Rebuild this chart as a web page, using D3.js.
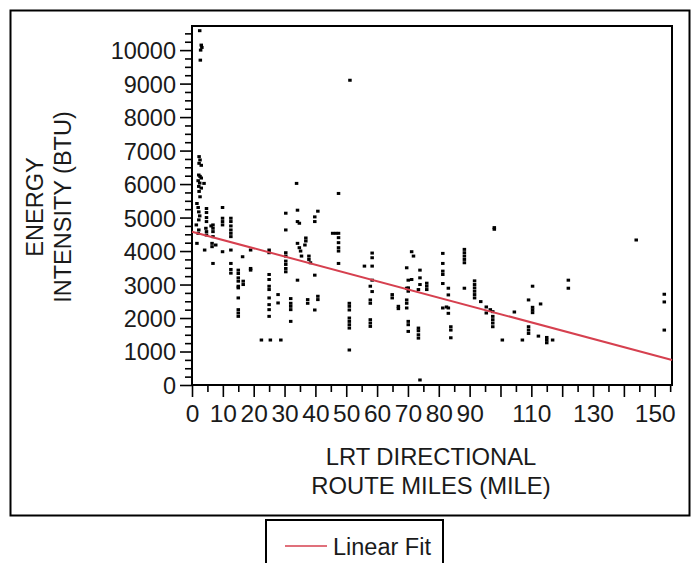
<!DOCTYPE html>
<html>
<head>
<meta charset="utf-8">
<script src="https://cdn.jsdelivr.net/npm/d3@7"></script>
<style>
  body { margin: 0; background: #fff; }
  svg text { font-family: "Liberation Sans", Arial, sans-serif; fill: #1a1a1a; }
</style>
</head>
<body>
<svg id="chart" width="691" height="563"></svg>
<script>
const width = 691, height = 563;

// route miles vs energy intensity
const points = [
  [2.5, 10580], [3.0, 10150], [3.2, 10080], [2.8, 10000], [2.7, 9700],
  [2.3, 6820], [2.6, 6720], [2.3, 6620], [3.0, 6560],
  [2.2, 6270], [2.6, 6230], [3.0, 6180], [2.0, 6100], [2.5, 6030], [3.9, 6020], [2.2, 5930], [3.0, 5880], [2.3, 5780], [2.6, 5620],
  [1.6, 5420], [2.0, 5300], [2.2, 5170], [2.5, 5050], [2.2, 4930], [1.4, 4780], [2.2, 4630], [2.0, 4530], [1.6, 4230],
  [4.7, 5270], [4.7, 5150], [4.7, 5000], [4.7, 4880], [4.5, 4680], [4.7, 4580], [4.7, 4480], [4.1, 4030],
  [6.2, 4750], [6.8, 4780], [6.8, 4680], [6.8, 4580], [6.8, 4430], [6.5, 4230], [6.5, 4130], [7.7, 4180], [6.8, 3630],
  [9.9, 5300], [9.9, 4980], [9.9, 4880], [9.9, 4780], [9.9, 3980],
  [12.6, 4980], [12.6, 4880], [12.6, 4750], [12.6, 4630], [12.6, 4530], [12.6, 4430], [12.6, 4030], [12.6, 3630], [12.6, 3450], [12.6, 3340],
  [15, 3430], [15, 3330], [15, 3200], [15, 3100], [15, 2950], [15, 2900], [15, 2600], [15, 2250], [15, 2150], [15, 2050],
  [16.4, 3830], [16.6, 3100], [16.6, 3000],
  [19, 4030], [19, 3480], [19, 3430],
  [22.5, 1343], [25.4, 1343], [28.8, 1343],
  [25, 4030], [25, 3950], [25, 3300], [25, 3150], [25, 2950], [25, 2850], [25, 2600], [25, 2400], [25, 2250], [25, 2050],
  [27.9, 2700], [27.9, 2450],
  [30.4, 5130], [30.4, 4630], [30.4, 3950], [30.4, 3850], [30.4, 3700], [30.4, 3600], [30.4, 3480], [30.4, 3380],
  [32, 2580], [32, 2440], [32, 2350], [32, 2250], [32, 1900],
  [33.9, 6020],
  [34.2, 5220], [34.2, 4880], [34.8, 4830], [34.2, 4230], [34.8, 4100], [35.2, 4000], [35.5, 3850], [34.2, 3130],
  [36.9, 4390], [36.9, 4300], [36.6, 4180], [37.9, 3850], [37.9, 3750], [38.4, 3650],
  [37.5, 2550], [37.5, 2440],
  [39.8, 5020], [39.8, 4880], [39.8, 3280], [39.8, 2240],
  [40.8, 5190], [40.8, 2650], [40.8, 2550],
  [45.6, 4530], [46.6, 4530],
  [47.5, 4530], [47.5, 4400], [47.5, 4250], [47.5, 4100], [47.5, 4000], [47.5, 3630], [47.5, 5720],
  [51.2, 9100],
  [51, 2440], [51, 2350], [51, 2240], [51, 2000], [51, 1900], [51, 1800], [51, 1700], [51, 1045],
  [55.9, 3550],
  [58.4, 3940], [58.4, 3800], [58.4, 3550], [58.4, 3130], [57.8, 2950], [58.4, 2790], [57.8, 2540], [57.8, 2440], [57.8, 1950], [57.8, 1850], [57.8, 1750],
  [64.9, 2700], [64.9, 2600],
  [66.9, 2350], [66.9, 2280],
  [69.6, 3500], [70.1, 3130], [70.1, 2900], [69.6, 2890], [70.1, 2800], [69.6, 2540], [69.6, 2440], [69.6, 2300], [70.1, 1900], [70.1, 1800], [70.1, 1600],
  [71.2, 3980], [71.8, 3850], [71.2, 3150],
  [73.4, 1700], [73.4, 1620], [73.4, 1500], [73.4, 1400], [73.9, 150],
  [73.9, 3430], [73.9, 3200], [73.9, 3000], [73.4, 2850],
  [76.1, 3040], [76.1, 2950], [76.1, 2850],
  [81.3, 3930], [81.3, 3630], [81.3, 3400], [81.3, 3300], [81.3, 3030], [81.3, 2300],
  [83.1, 2890], [83.1, 2690], [82.5, 2330], [83.1, 2300], [83.1, 2140], [83.9, 1740], [83.9, 1640], [83.9, 1410],
  [88.3, 4050], [88.3, 3950], [88.3, 3850], [88.3, 3750], [88.3, 3650], [88.3, 2890],
  [91.6, 3110], [91.6, 3000], [91.6, 2900], [91.6, 2800], [91.6, 2700], [91.6, 2600],
  [93.6, 2490], [95.4, 2330], [95.4, 2150], [96.7, 2250],
  [97.5, 2190], [97.5, 2050], [97.5, 1950], [97.5, 1850], [97.5, 1740],
  [98, 4650], [98, 4700],
  [100.6, 1343], [104.5, 2180], [107.1, 1343],
  [109.1, 2540], [109.1, 1740], [109.1, 1640], [109.1, 1540],
  [110.4, 2950], [110.4, 2320], [110.4, 2240], [110.4, 2160],
  [112.3, 1460], [113, 2420],
  [115, 1420], [115, 1340], [115, 1260], [116.9, 1343],
  [122, 3130], [122, 2890],
  [144, 4330],
  [153.1, 2710], [153.1, 2480], [153.1, 1640]
];

// linear fit as drawn: intercept and slope
const fitIntercept = 4576;
const fitSlope = -24.6;

const xMajor = d3.range(0, 151, 10);
const xMinor = d3.range(5, 156, 10);
const xLabels = [0, 10, 20, 30, 40, 50, 60, 70, 80, 90, 110, 130, 150];
const yMajor = d3.range(0, 10001, 1000);
const yMinor = d3.range(250, 10501, 250).filter(v => v % 1000 !== 0);

const plot = { left: 192, right: 672, top: 26, bottom: 385 };

const x = d3.scaleLinear().domain([0, 155.6]).range([plot.left, plot.right]);
const y = d3.scaleLinear().domain([0, 10720]).range([plot.bottom, plot.top]);

const svg = d3.select("#chart");

// outer frame
svg.append("rect")
  .attr("x", 10.5).attr("y", 10.5)
  .attr("width", 679).attr("height", 505)
  .attr("fill", "none").attr("stroke", "#000").attr("stroke-width", 2);

// minor ticks
svg.append("g")
  .attr("transform", `translate(${plot.left},0)`)
  .call(d3.axisLeft(y).tickValues(yMinor).tickSize(7).tickFormat(""))
  .call(g => g.select(".domain").remove());
svg.append("g")
  .attr("transform", `translate(0,${plot.bottom})`)
  .call(d3.axisBottom(x).tickValues(xMinor).tickSize(7).tickFormat(""))
  .call(g => g.select(".domain").remove());

// major ticks
svg.append("g")
  .attr("transform", `translate(${plot.left},0)`)
  .call(d3.axisLeft(y).tickValues(yMajor).tickSize(12).tickPadding(4).tickFormat(d3.format("d")))
  .call(g => g.select(".domain").remove())
  .call(g => g.selectAll("text").attr("font-size", 23.5).attr("dy", "0.36em"));
svg.append("g")
  .attr("transform", `translate(0,${plot.bottom})`)
  .call(d3.axisBottom(x).tickValues(xMajor).tickSize(12).tickPadding(8)
    .tickFormat(d => xLabels.includes(d) ? d : ""))
  .call(g => g.select(".domain").remove())
  .call(g => g.selectAll("text").attr("font-size", 24.5).attr("dy", "0.71em"));

svg.selectAll(".tick line").attr("stroke", "#000").attr("stroke-width", 1.6);
svg.selectAll(".tick text").attr("fill", "#1a1a1a")
  .style("font-family", '"Liberation Sans", Arial, sans-serif');

// plot frame
svg.append("rect")
  .attr("x", plot.left).attr("y", plot.top)
  .attr("width", plot.right - plot.left).attr("height", plot.bottom - plot.top)
  .attr("fill", "none").attr("stroke", "#000").attr("stroke-width", 2);

// points
svg.append("g")
  .selectAll("rect")
  .data(points)
  .join("rect")
  .attr("x", d => x(d[0]) - 1.75)
  .attr("y", d => y(d[1]) - 1.5)
  .attr("width", 3.5)
  .attr("height", 3)
  .attr("fill", "#000");

// fit line
const fitColor = "#d6404f";
svg.append("line")
  .attr("x1", x(0)).attr("y1", y(fitIntercept))
  .attr("x2", x(155.6)).attr("y2", y(fitIntercept + fitSlope * 155.6))
  .attr("stroke", fitColor).attr("stroke-width", 2);

// axis titles
svg.append("text")
  .attr("transform", "translate(43,207) rotate(-90)")
  .attr("text-anchor", "middle").attr("font-size", 23.5)
  .text("ENERGY");
svg.append("text")
  .attr("transform", "translate(71,207) rotate(-90)")
  .attr("text-anchor", "middle").attr("font-size", 23.5)
  .text("INTENSITY (BTU)");

svg.append("text")
  .attr("x", 431).attr("y", 465)
  .attr("text-anchor", "middle").attr("font-size", 23.8)
  .text("LRT DIRECTIONAL");
svg.append("text")
  .attr("x", 431).attr("y", 494)
  .attr("text-anchor", "middle").attr("font-size", 23.8)
  .text("ROUTE MILES (MILE)");

// legend
svg.append("rect")
  .attr("x", 266).attr("y", 520)
  .attr("width", 177).attr("height", 60)
  .attr("fill", "none").attr("stroke", "#000").attr("stroke-width", 2);
svg.append("line")
  .attr("x1", 285).attr("x2", 327).attr("y1", 546).attr("y2", 546)
  .attr("stroke", fitColor).attr("stroke-width", 1.6);
svg.append("text")
  .attr("x", 333).attr("y", 555)
  .attr("font-size", 23.5)
  .text("Linear Fit");
</script>
</body>
</html>
